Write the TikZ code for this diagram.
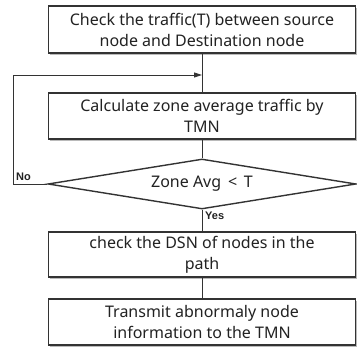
\documentclass[tikz,border=0pt]{standalone}
\usepackage{fontspec}
\setmainfont{Noto Sans}
\newfontfamily\tagfont{Liberation Sans}
\usetikzlibrary{shapes.geometric,shadows,arrows.meta}
\definecolor{ink}{HTML}{222222}
\definecolor{edge}{HTML}{333333}
\tikzset{
  stepbox/.style={draw=edge, line width=1.4pt, fill=white, minimum width=307pt, align=center,
     inner sep=0pt, text=ink, font=\fontsize{16}{21}\selectfont,
     drop shadow={shadow xshift=1pt, shadow yshift=-2pt, fill=black!45, opacity=0.6}},
  decision/.style={draw=edge, line width=1.4pt, fill=white, shape=diamond, aspect=6.16,
     minimum width=308pt, minimum height=50pt, inner sep=0pt, text=ink,
     font=\fontsize{16}{21}\selectfont},
  conn/.style={draw=edge, line width=0.9pt},
  tag/.style={font=\tagfont\bfseries\fontsize{11}{12}\selectfont, text=ink, inner sep=0pt}
}
\begin{document}
\begin{tikzpicture}[x=1pt,y=1pt]
\useasboundingbox (0,0) rectangle (357,347);
\node[stepbox, minimum height=47pt] (b1) at (202,317.5) {Check the traffic(T) between source\\node and Destination node};
\node[stepbox, minimum height=46pt] (b2) at (202,231) {Calculate zone average traffic by\\TMN};
\node[decision] (d) at (202,163) {Zone Avg \,<\, T};
\node[stepbox, minimum height=45pt] (b3) at (202,92.5) {check the DSN of nodes in the\\path};
\node[stepbox, minimum height=46pt] (b4) at (202,25) {Transmit abnormaly node\\information to the TMN};
\coordinate (j) at (202,272);
\coordinate (lt) at (13,272);
\coordinate (lb) at (13,163);
\draw[conn] (b1.south) -- (b2.north);
\draw[conn] (b2.south) -- (d.north);
\draw[conn] (d.south) -- (b3.north);
\draw[conn] (b3.south) -- (b4.north);
\draw[conn, -{Triangle[length=8pt,width=5pt]}] (d.west) -- (lb) -- (lt) -- (j);
\node[tag, anchor=south west] (no) at (16,166) {No};
\node[tag, anchor=north west] (yes) at (205,135) {Yes};
\end{tikzpicture}
\end{document}
